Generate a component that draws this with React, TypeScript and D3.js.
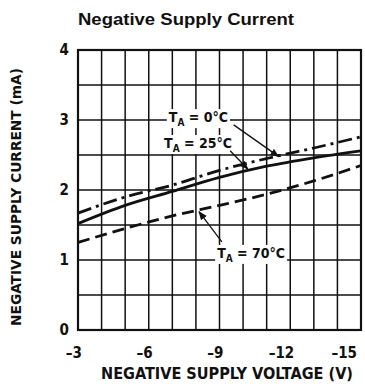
import * as React from "react";
import * as d3 from "d3";

const voltages: number[] = [-3, -5, -7, -9, -11, -13, -15];
const current0C: number[] = [1.67, 1.9, 2.07, 2.28, 2.45, 2.6, 2.76];
const current25C: number[] = [1.52, 1.78, 1.98, 2.18, 2.34, 2.46, 2.56];
const current70C: number[] = [1.25, 1.45, 1.63, 1.78, 1.94, 2.13, 2.35];
const xTicks: number[] = [-3, -6, -9, -12, -15];
const yTicks: number[] = [0, 1, 2, 3, 4];

interface Series {
    temp: string;
    values: number[];
    dash: string;
}

interface Note {
    temp: string;
    textX: number;
    textY: number;
    tailX: number;
    tailY: number;
    tipX: number;
    tipY: number;
}

const series: Series[] = [
    { temp: "0°C", values: current0C, dash: "14,5,3,5" },
    { temp: "25°C", values: current25C, dash: "none" },
    { temp: "70°C", values: current70C, dash: "12,6" }
];

const notes: Note[] = [
    { temp: "0°C", textX: -6.85, textY: 2.97, tailX: -9.6, tailY: 2.93, tipX: -11.5, tipY: 2.48 },
    { temp: "25°C", textX: -6.65, textY: 2.6, tailX: -9.45, tailY: 2.56, tipX: -10.2, tipY: 2.3 },
    { temp: "70°C", textX: -8.9, textY: 1.03, tailX: -9.1, tailY: 1.26, tipX: -8.13, tipY: 1.69 }
];

const narrow: string = "'DejaVu Sans Condensed', 'Liberation Sans Narrow', 'Arial Narrow', sans-serif";

const margin = { top: 50, right: 4, bottom: 62, left: 78 };
const W: number = 365;
const H: number = 392;

export default function App(): JSX.Element {
    const ref = React.useRef<SVGSVGElement>(null);

    React.useEffect(() => {
        const svg = d3.select(ref.current);
        svg.selectAll("*").remove();

        const x = d3.scaleLinear().domain([-3, -15]).range([margin.left, W - margin.right]);
        const y = d3.scaleLinear().domain([0, 4]).range([H - margin.bottom, margin.top]);

        svg.append("defs").append("marker")
            .attr("id", "arrow")
            .attr("viewBox", "0 0 10 10")
            .attr("refX", 9).attr("refY", 5)
            .attr("markerWidth", 9).attr("markerHeight", 9)
            .attr("markerUnits", "userSpaceOnUse")
            .attr("orient", "auto")
            .append("path")
            .attr("d", "M0,1 L10,5 L0,9 Z")
            .attr("fill", "#111");

        // title
        svg.append("text")
            .attr("x", margin.left).attr("y", 25)
            .attr("font-family", "'Liberation Sans', Arial, sans-serif")
            .attr("font-weight", "bold").attr("font-size", 17)
            .attr("fill", "#111")
            .attr("textLength", 216).attr("lengthAdjust", "spacingAndGlyphs")
            .text("Negative Supply Current");

        // grid
        const grid = svg.append("g").attr("stroke", "#111").attr("stroke-width", 1.5);
        grid.selectAll(".v").data(d3.range(-4, -15, -1)).enter().append("line")
            .attr("x1", (d: number) => x(d)).attr("x2", (d: number) => x(d))
            .attr("y1", y(0)).attr("y2", y(4));
        grid.selectAll(".h").data(d3.range(0.5, 4, 0.5)).enter().append("line")
            .attr("x1", x(-3)).attr("x2", x(-15))
            .attr("y1", (d: number) => y(d)).attr("y2", (d: number) => y(d));
        svg.append("rect")
            .attr("x", x(-3)).attr("y", y(4))
            .attr("width", x(-15) - x(-3)).attr("height", y(0) - y(4))
            .attr("fill", "none").attr("stroke", "#111").attr("stroke-width", 2.2);

        // curves
        const line = d3.line<number>()
            .x((_d: number, i: number) => x(voltages[i]))
            .y((d: number) => y(d))
            .curve(d3.curveMonotoneX);
        svg.append("g").selectAll("path").data(series).enter().append("path")
            .attr("d", (s: Series) => line(s.values))
            .attr("fill", "none")
            .attr("stroke", "#111")
            .attr("stroke-width", 2.8)
            .attr("stroke-dasharray", (s: Series) => s.dash);

        // annotations
        notes.forEach((n: Note) => {
            const g = svg.append("g");
            const t = g.append("text")
                .attr("x", x(n.textX)).attr("y", y(n.textY))
                .attr("font-family", narrow).attr("font-weight", "bold")
                .attr("font-size", 14).attr("fill", "#111");
            t.append("tspan").text("T");
            t.append("tspan").attr("dy", 4).attr("font-size", 10).text("A");
            t.append("tspan").attr("dy", -4).text(` = ${n.temp}`);
            const bb = (t.node() as SVGTextElement).getBBox();
            g.insert("rect", "text")
                .attr("x", bb.x - 2).attr("y", bb.y)
                .attr("width", bb.width + 4).attr("height", bb.height)
                .attr("fill", "white");
            svg.append("line")
                .attr("x1", x(n.tailX)).attr("y1", y(n.tailY))
                .attr("x2", x(n.tipX)).attr("y2", y(n.tipY))
                .attr("stroke", "#111").attr("stroke-width", 1.3)
                .attr("marker-end", "url(#arrow)");
        });

        // tick labels
        svg.append("g").selectAll("text").data(xTicks).enter().append("text")
            .attr("x", (d: number) => Math.min(x(d) + 4, W - 8)).attr("y", H - margin.bottom + 28)
            .attr("text-anchor", "end")
            .attr("font-family", narrow).attr("font-weight", "bold")
            .attr("font-size", 15).attr("fill", "#111")
            .text((d: number) => `\u2013${Math.abs(d)}`);
        svg.append("g").selectAll("text").data(yTicks).enter().append("text")
            .attr("x", margin.left - 9).attr("y", (d: number) => y(d))
            .attr("dy", "0.35em")
            .attr("text-anchor", "end")
            .attr("font-family", narrow).attr("font-weight", "bold")
            .attr("font-size", 15).attr("fill", "#111")
            .text((d: number) => String(d));

        // axis titles
        svg.append("text")
            .attr("x", 227).attr("y", 379)
            .attr("text-anchor", "middle")
            .attr("font-family", narrow).attr("font-weight", "bold")
            .attr("font-size", 15).attr("fill", "#111")
            .attr("textLength", 252).attr("lengthAdjust", "spacingAndGlyphs")
            .text("NEGATIVE SUPPLY VOLTAGE (V)");
        svg.append("g")
            .attr("transform", `translate(21, 197)`)
            .append("text")
            .attr("transform", "rotate(-90)")
            .attr("text-anchor", "middle")
            .attr("font-family", narrow).attr("font-weight", "bold")
            .attr("font-size", 14).attr("fill", "#111")
            .attr("textLength", 258).attr("lengthAdjust", "spacingAndGlyphs")
            .text("NEGATIVE SUPPLY CURRENT (mA)");
    }, []);

    return (
        <svg ref={ref} width={W} height={H}
            style={{ position: "absolute", left: 0, top: 0, background: "white" }} />
    );
}
